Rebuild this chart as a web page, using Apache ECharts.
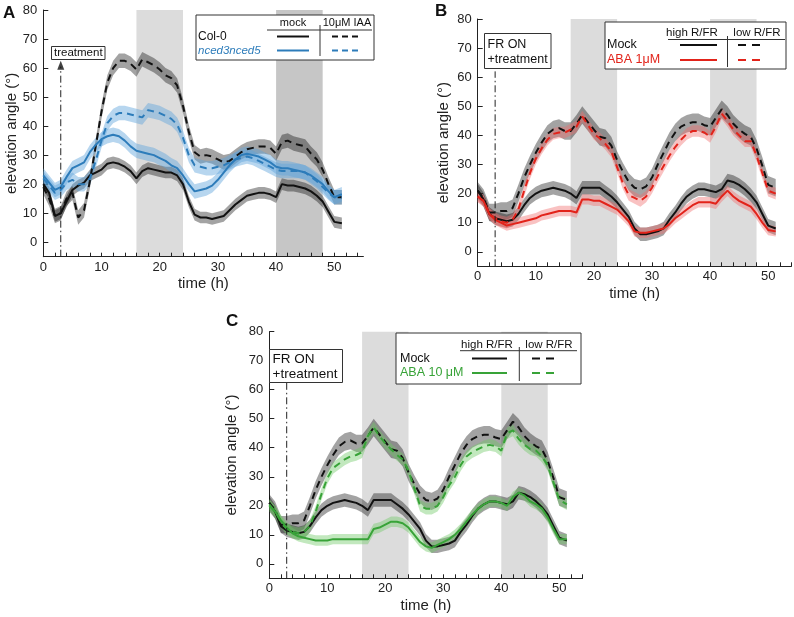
<!DOCTYPE html>
<html><head><meta charset="utf-8">
<script src="https://cdn.jsdelivr.net/npm/echarts@6/dist/echarts.min.js"></script>
<style>html,body{margin:0;padding:0;background:#fff}#c{width:794px;height:617px}</style>
</head><body><div id="c"></div>
<script>
// time points (h)
const time = [0,1,2,3,4,5,6,7,8,9,10,11,12,13,14,15,16,17,18,19,20,21,22,23,24,25,26,27,28,29,30,31,32,33,34,35,36,37,38,39,40,41,42,43,44,45,46,47,48,49,50,51.3];

// Panel A
const col0Mock = [20,17,9,10,14,18,19.5,20.5,23,24, 25,27,27.5,27,26,24.5,22,24.5,25.5,25, 24.5,24,24,23,20,14,9.5,8.5,8.5,8, 8.5,9,11,13,14.5,16,16.5,17,17,16.5, 15.5,20,19.5,19.5,19,18.5,17.5,16,14,10.5, 7,6.5];
const col0IAA = [19,15,9,10,15,17,8.5,11,21,33, 45,55,60,62.5,62.5,61.5,59.5,63,62,61, 59.5,57.5,56.5,54,47,38,31,29.5,30,29.5, 28.5,27.5,28,29.5,31,32,32.5,33,33,32.5, 30.5,34.5,35,34,33.5,33,30.5,28.5,25,20, 15.5,15.5];
const ncedMock = [23,20.5,18,19,22.5,25.5,26.5,27.5,31,33.5, 35.5,36.5,37,36.5,35,33,31.5,31,30.5,30, 29,28,26.5,25.5,23,20,17.5,18,18.5,19.5, 21.5,24,26.5,28.5,30,30.5,30,29.5,28.5,27.5, 26,25.5,25.5,25,24.5,24,23,21.5,20,17.5, 15.5,16.5];
const ncedIAA = [22,19.5,17,18,20.5,21.5,20,20,22,28, 35,41,43.5,44.5,44.5,44,43.5,43,45.5,45, 44.5,43.5,42.5,40.5,36,30,26.5,26,25.5,25.5, 26,26.5,27.5,28.5,29,29.5,29,28,27,26, 25,24.5,24.5,24.5,24.5,24,22.5,21,19,17, 15.5,15.5];
// Panels B and C (mock shared)
const mockHigh = [21,18,13,11.5,11,10.5,11,13,16,18.5, 20,21,21.5,22,21.5,21,20,18.5,22,22, 22,22,20.5,19,17,14.5,12,8,6,6, 6.5,7,8,11,13.5,16.5,19,20.5,21.5,21.5, 21,20.5,21.5,24.5,24,23,21.5,19.5,17,13, 9,8];
const mockLow = [21,18.5,13.5,13.5,14,14,15,20,25.5,30, 34,37.5,40.5,42,42.5,41.5,41.5,44,47,44.5, 42,39.5,39,36.5,31.5,27.5,24,22,21.5,22.5, 25.5,30,34,38,41,43,44,44.5,44.5,43.5, 43,46,49,47,44,42,40.5,39.5,35.5,29.5, 23,22];
const aba1High = [19,17.5,13,11,10,9,9.5,10,10.5,11, 11.5,12.5,13,13.5,14,14,14,13.5,18,18, 17.5,17.5,16.5,15.5,14.5,12.5,10.5,7,6.5,6.5, 7,7.5,8,9.5,11.5,13,14.5,16,17,17, 17,16.5,19,21,19,17.5,16.5,15.5,13,10, 7.5,7];
const aba1Low = [19,17.5,13,11.5,10.5,10,11,14.5,21,27, 32,35.5,38.5,40.5,41,41,42,43,46.5,43.5, 40.5,39,37,34.5,29,23.5,19.5,18.5,17.5,19, 22,26,29.5,33,36,38.5,40.5,41.5,41.5,41, 39.5,43,47.5,45,42,40,38,38,33,27, 21,20];
const aba10High = [20.5,18,15,12.5,10.5,9.5,9,8.5,8,8, 8,8.5,8.5,8.5,8.5,8.5,8.5,8.5,12,12.5, 13.5,14.5,14.5,14,12.5,10,7.5,6,5.5,6.5, 7.5,8.5,10,12,14.5,17,19,20.5,21.5,21.5, 21,20,23,24.5,23.5,21.5,20.5,19,16,12, 8.5,8.5];
const aba10Low = [20,18,14.5,12,11,10.5,11,13,18,24, 29.5,33,34.5,36,37,37.5,38.5,44,47,44, 41.5,39.5,37.5,36,32,26,20,19,19,20, 23,27,30,34,37,38.5,39.5,40.5,41,40.5, 39,45,46,43,41,39.5,39,37,34,28, 22,20.5];
// standard error half-widths of the shaded bands (°)
const semA = {col0Mock: 2, col0IAA: 2.5, ncedMock: 2.5, ncedIAA: 2.5};
const semBC = {mockHigh: 2.3, mockLow: 3, abaHigh: 1.8, abaLow: 2};
// night periods (h)
const nights = [[16,24],[40,48]];
const treatmentTime = 3;
const yTicks = [0,10,20,30,40,50,60,70,80];
const xTicks = [0,10,20,30,40,50];

const FONT = "'Liberation Sans', Arial, Helvetica, sans-serif";
const BLACK = '#111', BLUE = '#2d7cba', RED = '#e2231a', GREEN = '#38a338';
const GRAYBAND = 'rgba(0,0,0,0.36)';
const BLUEBAND = 'rgba(95,165,220,0.45)';
const REDBAND = 'rgba(240,110,110,0.42)';
const GREENBAND = 'rgba(110,200,100,0.42)';

const grids = [
  {left:43.3, top:10, width:320.1, height:246.7},
  {left:477.7, top:19, width:313.7, height:247.3},
  {left:269.3, top:331.7, width:313.2, height:246.6}
];
const xMax = [55, 54, 54];
const yNameGap = [20, 26, 30];

function range(a,b,s){const r=[];for(let v=a;v<=b;v+=s)r.push(v);return r;}

const xAxes = grids.map((g,i)=>({
  type:'value', gridIndex:i, min:0, max:xMax[i],
  axisLine:{show:true, onZero:false, lineStyle:{color:'#222', width:1}},
  axisTick:{show:true, inside:true, length:4, customValues: range(0, xMax[i], 2), lineStyle:{color:'#222'}},
  axisLabel:{customValues:xTicks, color:'#222', fontSize:13, fontFamily:FONT, margin:4},
  splitLine:{show:false},
  name:'time (h)', nameLocation:'middle', nameGap:20,
  nameTextStyle:{fontSize:15, color:'#222', fontFamily:FONT}
}));
const yAxes = grids.map((g,i)=>({
  type:'value', gridIndex:i, min:-5, max:80,
  axisLine:{show:true, onZero:false, lineStyle:{color:'#222', width:1}},
  axisTick:{show:true, inside:true, length:5, customValues:yTicks, lineStyle:{color:'#222'}},
  axisLabel:{customValues:yTicks, color:'#222', fontSize:13, fontFamily:FONT, margin:6},
  splitLine:{show:false},
  name:'elevation angle (°)', nameLocation:'middle', nameGap:yNameGap[i], nameRotate:90,
  nameTextStyle:{fontSize:15, color:'#222', fontFamily:FONT}
}));

function shade(gi, colors){
  return {
    type:'custom', xAxisIndex:gi, yAxisIndex:gi, silent:true, z:0,
    data: nights.map((n,k)=>[n[0], n[1], k]),
    renderItem(params, api){
      const p1 = api.coord([api.value(0), 80]);
      const p2 = api.coord([api.value(1), -5]);
      return {type:'rect', shape:{x:p1[0], y:p1[1], width:p2[0]-p1[0], height:p2[1]-p1[1]},
        style:{fill: colors[api.value(2)]}};
    }
  };
}
function band(gi, v, e, color){
  return {
    type:'custom', xAxisIndex:gi, yAxisIndex:gi, silent:true, z:1,
    data: time.map((t,i)=>[t, v[i]]),
    renderItem(params, api){
      if (params.dataIndex !== 0) return null;
      const up=[], lo=[];
      for (let i=0;i<time.length;i++){
        up.push(api.coord([time[i], v[i]+e]));
        lo.push(api.coord([time[i], v[i]-e]));
      }
      return {type:'polygon', shape:{points: up.concat(lo.reverse())}, style:{fill:color}};
    }
  };
}
function line(gi, v, color, dashed){
  return {
    type:'line', xAxisIndex:gi, yAxisIndex:gi, silent:true, z:3,
    data: time.map((t,i)=>[t, v[i]]), showSymbol:false, symbol:'none',
    lineStyle:{color, width:2, type: dashed ? [7,5] : 'solid'}
  };
}
function treatLine(gi, top){
  return {
    type:'line', xAxisIndex:gi, yAxisIndex:gi, silent:true, z:4,
    data:[[treatmentTime,-5],[treatmentTime,top]], showSymbol:false, symbol:'none',
    lineStyle:{color:'#222', width:1, type:[7,3,1.5,3]}
  };
}

const series = [
  shade(0, ['#dcdcdc','#c6c6c6']),
  shade(1, ['#dcdcdc','#dcdcdc']),
  shade(2, ['#dcdcdc','#dcdcdc']),
  // A
  band(0, col0Mock, semA.col0Mock, GRAYBAND),
  band(0, col0IAA, semA.col0IAA, GRAYBAND),
  band(0, ncedMock, semA.ncedMock, BLUEBAND),
  band(0, ncedIAA, semA.ncedIAA, BLUEBAND),
  line(0, col0Mock, BLACK, false),
  line(0, col0IAA, BLACK, true),
  line(0, ncedMock, BLUE, false),
  line(0, ncedIAA, BLUE, true),
  treatLine(0, 60.5),
  {type:'scatter', xAxisIndex:0, yAxisIndex:0, silent:true, z:5, data:[[treatmentTime, 61]],
   symbol:'triangle', symbolSize:[7,9], itemStyle:{color:'#111'}},
  // B
  band(1, mockHigh, semBC.mockHigh, GRAYBAND),
  band(1, mockLow, semBC.mockLow, GRAYBAND),
  band(1, aba1High, semBC.abaHigh, REDBAND),
  band(1, aba1Low, semBC.abaLow, REDBAND),
  line(1, mockHigh, BLACK, false),
  line(1, mockLow, BLACK, true),
  line(1, aba1High, RED, false),
  line(1, aba1Low, RED, true),
  treatLine(1, 62),
  // C
  band(2, mockHigh, semBC.mockHigh, GRAYBAND),
  band(2, mockLow, semBC.mockLow, GRAYBAND),
  band(2, aba10High, semBC.abaHigh, GREENBAND),
  band(2, aba10Low, semBC.abaLow, GREENBAND),
  line(2, mockHigh, BLACK, false),
  line(2, mockLow, BLACK, true),
  line(2, aba10High, GREEN, false),
  line(2, aba10Low, GREEN, true),
  treatLine(2, 62.5)
];

function txt(x,y,s,opt){
  return Object.assign({type:'text', z:100, x, y, style:Object.assign({text:s, fill:'#111', fontSize:13, fontFamily:FONT, textAlign:'left', textVerticalAlign:'middle'}, opt||{})});
}
function seg(x1,y1,x2,y2,color,w,dash){
  return {type:'line', z:100, shape:{x1,y1,x2,y2}, style:{stroke:color, lineWidth:w||1, lineDash:dash||null}};
}
function box(x,y,w,h){
  return {type:'rect', z:99, shape:{x,y,width:w,height:h}, style:{fill:'#fff', stroke:'#333', lineWidth:1}};
}

const graphics = [
  // panel letters
  txt(3,13,'A',{fontSize:17, fontWeight:'bold'}),
  txt(435,11,'B',{fontSize:17, fontWeight:'bold'}),
  txt(226,321,'C',{fontSize:17, fontWeight:'bold'}),
  // A treatment box
  box(51.5,46.5,53.5,13),
  txt(78.3,53.3,'treatment',{fontSize:11.5, textAlign:'center'}),
  // A legend
  box(196,15,178,45),
  txt(293,22.5,'mock',{fontSize:11, textAlign:'center'}),
  txt(347,22.5,'10μM IAA',{fontSize:11, textAlign:'center'}),
  seg(267,30,372,30,'#333',1),
  seg(320,25,320,56,'#333',1),
  txt(198,36.5,'Col-0',{fontSize:12}),
  txt(198,50.5,'nced3nced5',{fontSize:11.5, fill:BLUE, fontStyle:'italic'}),
  seg(277,36.5,309,36.5,BLACK,2),
  seg(332,36.5,361,36.5,BLACK,2,[6,4]),
  seg(277,50.5,309,50.5,BLUE,2),
  seg(332,50.5,361,50.5,BLUE,2,[6,4]),
  // B FR box
  box(484.5,33.5,66.5,35),
  txt(487.5,44.5,'FR ON',{fontSize:12.5}),
  txt(487.5,60,'+treatment',{fontSize:12.5}),
  // B legend
  box(605,22,181,47),
  txt(692,32.5,'high R/FR',{fontSize:11.5, textAlign:'center'}),
  txt(757,32.5,'low R/FR',{fontSize:11.5, textAlign:'center'}),
  seg(668,39.5,785,39.5,'#333',1),
  seg(727.5,36,727.5,67,'#333',1),
  txt(607,45,'Mock',{fontSize:12.5}),
  txt(607,60,'ABA 1μM',{fontSize:12.5, fill:RED}),
  seg(680,45,717,45,BLACK,2),
  seg(738,45,764,45,BLACK,2,[8,6]),
  seg(680,60,717,60,RED,2),
  seg(738,60,764,60,RED,2,[8,6]),
  // C FR box
  box(269.5,349.5,73,33),
  txt(272.5,359,'FR ON',{fontSize:13.5}),
  txt(272.5,374,'+treatment',{fontSize:13.5}),
  // C legend
  box(396,333,185,51),
  txt(487,344.5,'high R/FR',{fontSize:11.5, textAlign:'center'}),
  txt(549,344.5,'low R/FR',{fontSize:11.5, textAlign:'center'}),
  seg(460,350.7,577,350.7,'#333',1),
  seg(519.3,347,519.3,381,'#333',1),
  txt(400,358.5,'Mock',{fontSize:12.5}),
  txt(400,373,'ABA 10 μM',{fontSize:12.5, fill:GREEN}),
  seg(472,358.5,507,358.5,BLACK,2),
  seg(532,358.5,558,358.5,BLACK,2,[8,6]),
  seg(472,373,507,373,GREEN,2),
  seg(532,373,558,373,GREEN,2,[8,6])
];

const chart = echarts.init(document.getElementById('c'), null, {renderer:'canvas'});
chart.setOption({
  animation:false,
  backgroundColor:'#fff',
  textStyle:{fontFamily:FONT},
  grid: grids,
  xAxis: xAxes,
  yAxis: yAxes,
  series,
  graphic: graphics
});
</script>
</body></html>
